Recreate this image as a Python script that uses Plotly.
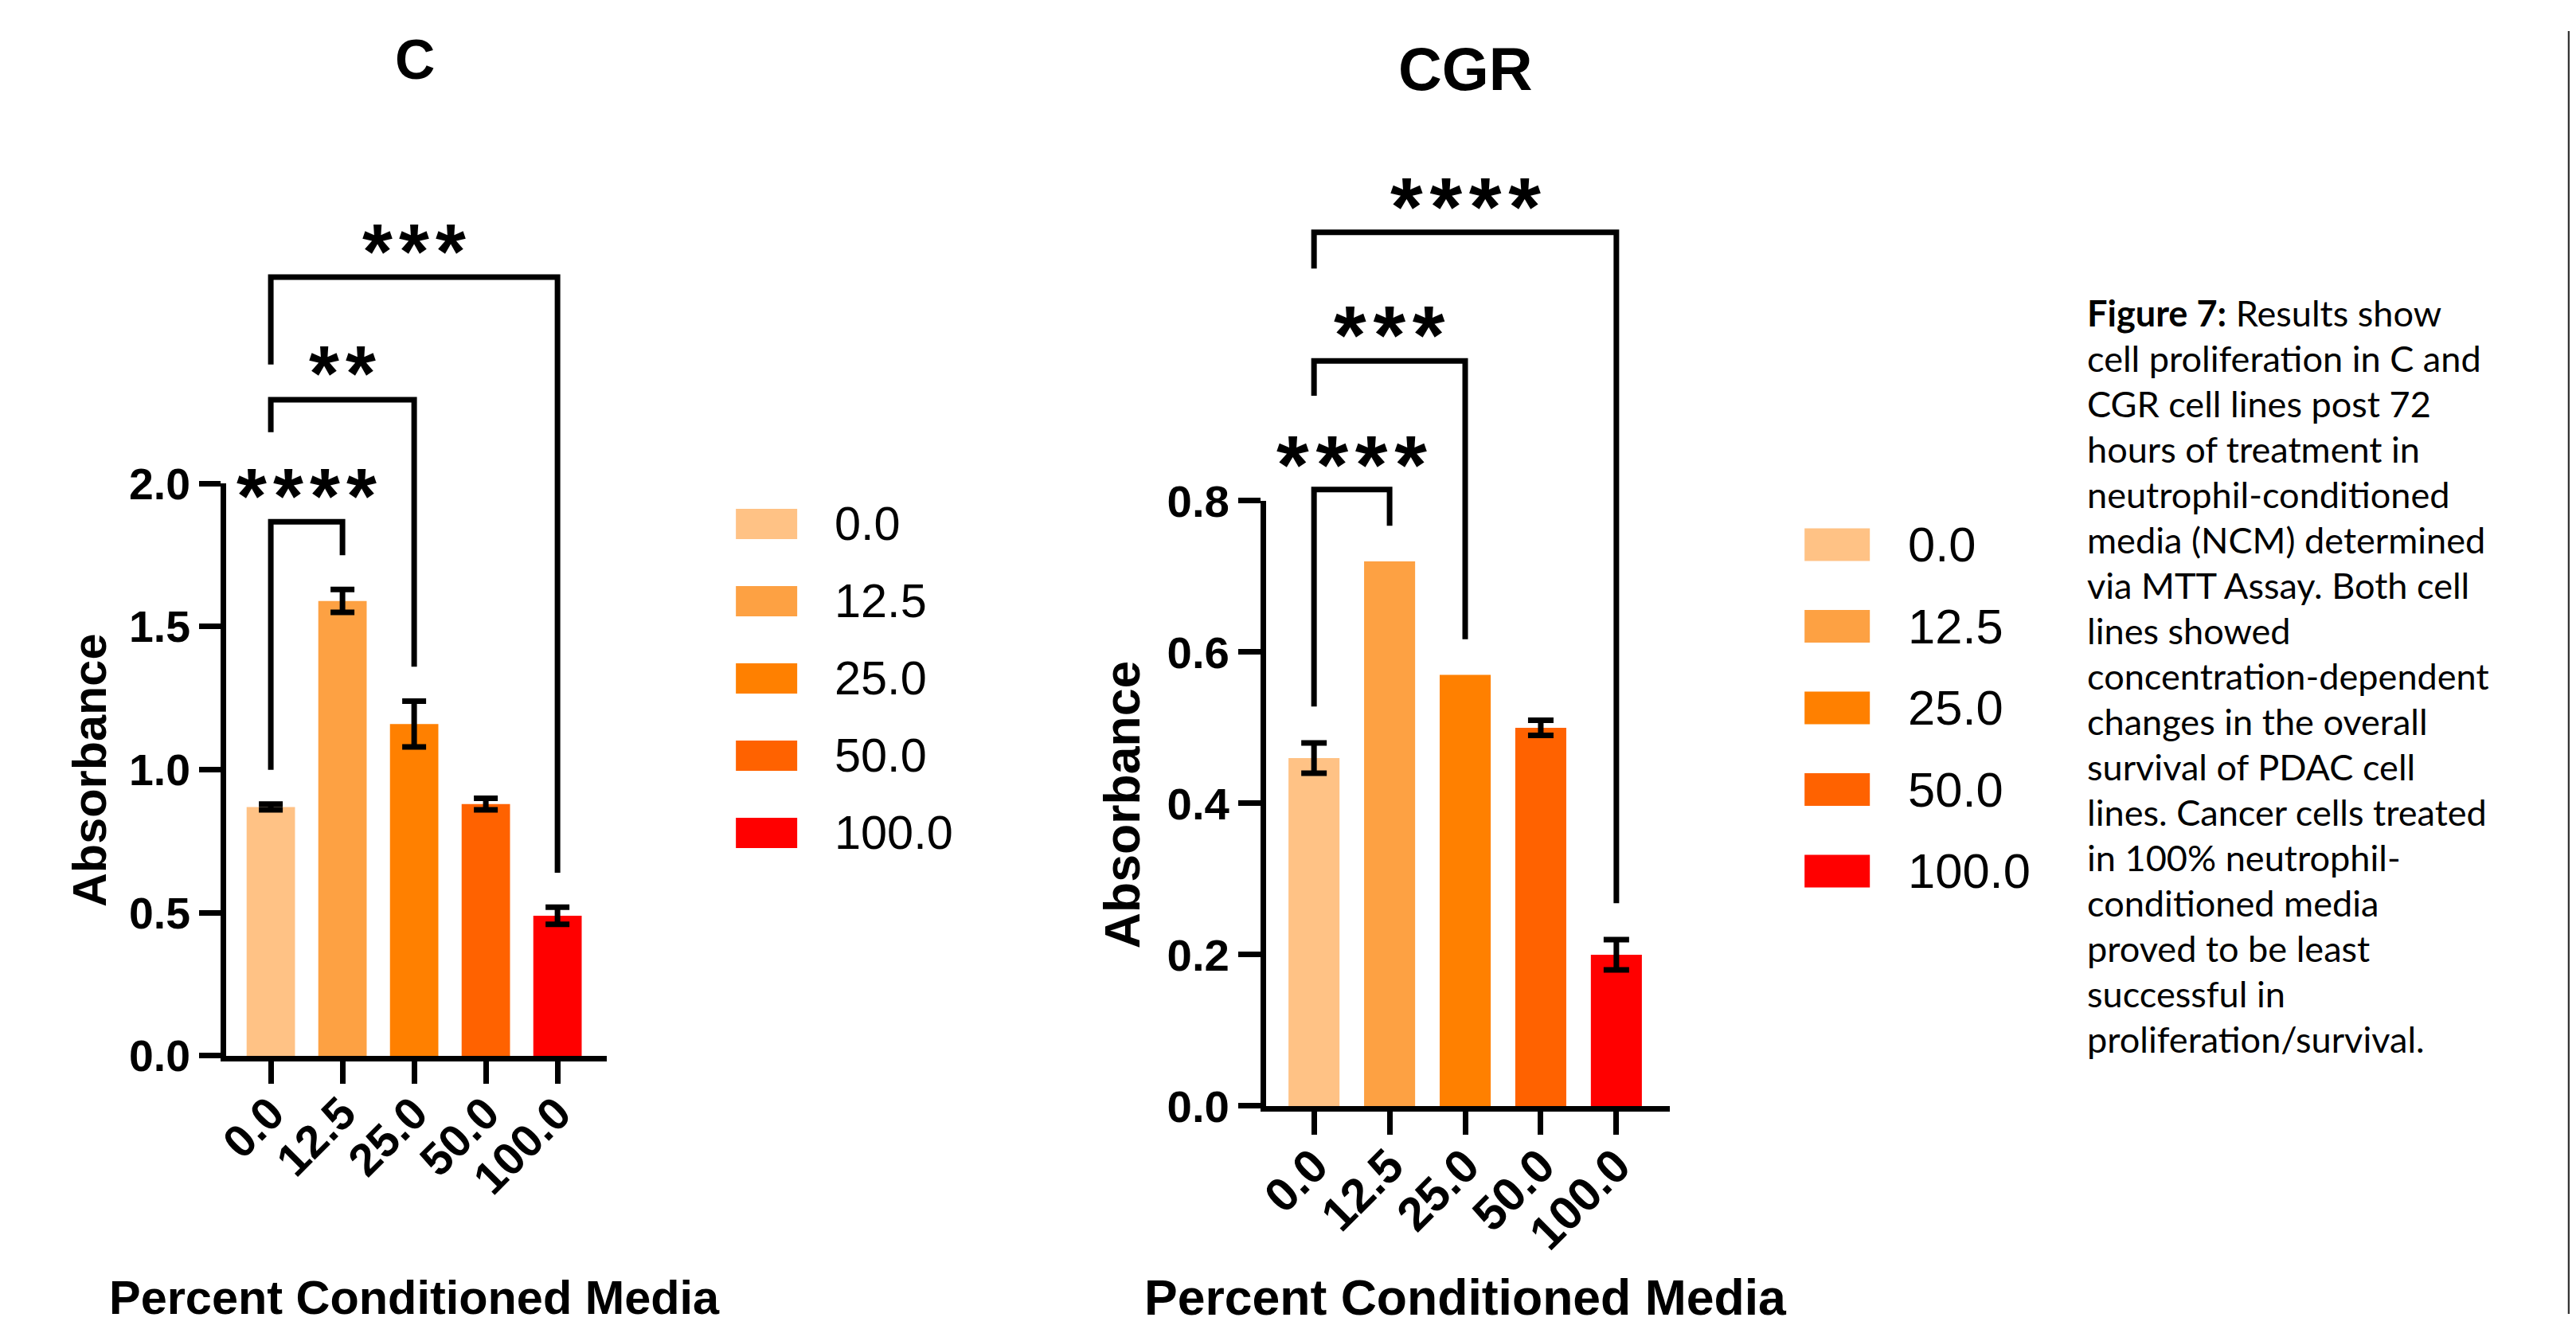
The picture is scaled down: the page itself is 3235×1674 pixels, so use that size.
import plotly.graph_objects as go

W, H = 3235, 1674

# ---------------- data ----------------
categories = ["0.0", "12.5", "25.0", "50.0", "100.0"]
colors = ["#FFC285", "#FDA143", "#FF8000", "#FF6200", "#FF0000"]

c_means = [0.87, 1.59, 1.16, 0.88, 0.49]
c_sem = [0.01, 0.04, 0.08, 0.02, 0.03]

cgr_means = [0.46, 0.72, 0.57, 0.50, 0.20]
cgr_sem = [0.02, None, None, 0.01, 0.02]

c_yticks = [0.0, 0.5, 1.0, 1.5, 2.0]
cgr_yticks = [0.0, 0.2, 0.4, 0.6, 0.8]

# significance comparisons: (group a, group b, label)
c_sig = [(0, 1, "****"), (0, 2, "**"), (0, 4, "***")]
cgr_sig = [(0, 1, "****"), (0, 2, "***"), (0, 4, "****")]

caption_lines = [
    "<b>Figure 7:</b> Results show",
    "cell proliferation in C and",
    "CGR cell lines post 72",
    "hours of treatment in",
    "neutrophil-conditioned",
    "media (NCM) determined",
    "via MTT Assay. Both cell",
    "lines showed",
    "concentration-dependent",
    "changes in the overall",
    "survival of PDAC cell",
    "lines. Cancer cells treated",
    "in 100% neutrophil-",
    "conditioned media",
    "proved to be least",
    "successful in",
    "proliferation/survival.",
]

# ---------------- layout geometry ----------------
# bracket geometry (top, left-leg bottom, right-leg bottom, label centre) in axis units
c_geom = [(1.867, 1.0, 1.75, 1.998), (2.293, 2.18, 1.36, 2.427), (2.722, 2.416, 0.64, 2.853)]
cgr_geom = [(0.815, 0.528, 0.767, 0.866), (0.985, 0.939, 0.617, 1.037), (1.155, 1.107, 0.268, 1.207)]

FONT = "Liberation Sans"
FS = 1.025  # font scale
HAIR = "\u200a"

# page placement compensation (target picture px -> figure px)
SX, OX = 0.9947, 23.9
SY, OY = 0.9623, 37.1


def fx(t):
    return ((t - OX) / SX) / W


def fy(t):
    return 1 - ((t - OY) / SY) / H


panels = [
    dict(title="C", means=c_means, sem=c_sem, sig=c_sig, geom=c_geom, yticks=c_yticks,
         xdom=(283, 761), ydom=(1324, 605.4), xrange=[-0.622, 4.689],
         title_xy=(520, 73), title_size=68, ytitle_xy=(112, 965), xtitle_xy=(519, 1627),
         atitle_size=58, ytick_size=54, xtick_size=56, star_size=95, yticklen=27, xticklen=28, cap=15,
         legend=dict(x0=923, x1=1000, y0=656, pitch=97, h=38, tx=1045, size=58)),
    dict(title="CGR", means=cgr_means, sem=cgr_sem, sig=cgr_sig, geom=cgr_geom, yticks=cgr_yticks,
         xdom=(1589, 2095.5), ydom=(1387, 627), xrange=[-0.632, 4.704],
         title_xy=(1839, 85), title_size=74, ytitle_xy=(1408, 1009), xtitle_xy=(1839, 1627),
         atitle_size=61, ytick_size=55, xtick_size=58, star_size=102, yticklen=28, xticklen=29, cap=16,
         legend=dict(x0=2265, x1=2347, y0=682, pitch=102.5, h=41, tx=2393, size=60)),
]

fig = go.Figure()
shapes = []
annotations = []
layout_axes = {}

for k, p in enumerate(panels):
    sfx = "" if k == 0 else str(k + 1)
    xa, ya = "x" + sfx, "y" + sfx
    ymax = p["yticks"][-1]
    yd0, yd1 = fy(p["ydom"][0]), fy(p["ydom"][1])

    def yp(v, yd0=yd0, yd1=yd1, ymax=ymax):
        return yd0 + v / ymax * (yd1 - yd0)

    for j, cat in enumerate(categories):
        err = p["sem"][j]
        fig.add_trace(go.Bar(
            x=[j], y=[p["means"][j]], width=0.675,
            marker=dict(color=colors[j], line=dict(width=0)),
            error_y=dict(type="data", array=[err if err is not None else 0],
                         visible=err is not None, thickness=7, width=p["cap"], color="black"),
            xaxis=xa, yaxis=ya, showlegend=False, hoverinfo="skip", name=cat,
        ))

    tickfont_y = dict(family=FONT, size=p["ytick_size"] * FS, color="black", weight="bold")
    tickfont_x = dict(family=FONT, size=p["xtick_size"] * FS, color="black", weight="bold")
    layout_axes["xaxis" + sfx] = dict(
        domain=[fx(p["xdom"][0]), fx(p["xdom"][1])], range=p["xrange"], anchor=ya,
        tickmode="array", tickvals=list(range(len(categories))), ticktext=categories,
        tickangle=-45, ticks="outside", ticklen=p["xticklen"], tickwidth=7, tickcolor="black",
        ticklabelstandoff=-20,
        showline=True, linewidth=7.3, linecolor="black", showgrid=False, zeroline=False,
        tickfont=tickfont_x,
    )
    layout_axes["yaxis" + sfx] = dict(
        domain=[yd0, yd1], range=[0, ymax], anchor=xa,
        tickmode="array", tickvals=p["yticks"], ticktext=[f"{v:.1f}" for v in p["yticks"]],
        ticks="outside", ticklen=p["yticklen"], tickwidth=7.3, tickcolor="black",
        showline=True, linewidth=7, linecolor="black", showgrid=False, zeroline=False,
        tickfont=tickfont_y,
    )

    # significance brackets
    for (a, b, lab), (top, lb, rb, ly) in zip(p["sig"], p["geom"]):
        shapes.append(dict(
            type="path", xref=xa, yref="paper",
            path=f"M {a},{yp(lb)} L {a},{yp(top)} L {b},{yp(top)} L {b},{yp(rb)}",
            line=dict(color="black", width=7),
        ))
        fs_star = p["star_size"] * FS
        annotations.append(dict(
            x=(a + b) / 2, xref=xa, y=yp(ly), yref="paper", text=HAIR.join(lab), showarrow=False,
            xanchor="center", yanchor="middle", yshift=-0.161 * fs_star,
            font=dict(family=FONT, size=fs_star, color="black", weight="bold"),
        ))

    # panel title and axis titles
    annotations.append(dict(x=fx(p["title_xy"][0]), y=fy(p["title_xy"][1]), xref="paper", yref="paper",
                            text=p["title"], showarrow=False, xanchor="center", yanchor="middle",
                            font=dict(family=FONT, size=p["title_size"] * FS, color="black", weight="bold")))
    annotations.append(dict(x=fx(p["ytitle_xy"][0]), y=fy(p["ytitle_xy"][1]), xref="paper", yref="paper",
                            text="Absorbance", textangle=-90, showarrow=False,
                            xanchor="center", yanchor="middle",
                            font=dict(family=FONT, size=p["atitle_size"] * FS, color="black", weight="bold")))
    annotations.append(dict(x=fx(p["xtitle_xy"][0]), y=fy(p["xtitle_xy"][1]), xref="paper", yref="paper",
                            text="Percent Conditioned Media", showarrow=False,
                            xanchor="center", yanchor="middle",
                            font=dict(family=FONT, size=p["atitle_size"] * FS, color="black", weight="bold")))

    # legend (drawn manually to match swatch size)
    lg = p["legend"]
    for j, cat in enumerate(categories):
        cy = lg["y0"] + lg["pitch"] * j
        shapes.append(dict(type="rect", xref="paper", yref="paper",
                           x0=fx(lg["x0"]), x1=fx(lg["x1"]),
                           y0=fy(cy + lg["h"] / 2), y1=fy(cy - lg["h"] / 2),
                           fillcolor=colors[j], line=dict(width=0)))
        annotations.append(dict(x=fx(lg["tx"]), y=fy(cy), xref="paper", yref="paper", text=cat,
                                showarrow=False, xanchor="left", yanchor="middle",
                                font=dict(family=FONT, size=lg["size"] * FS, color="black")))

# caption
for i, line in enumerate(caption_lines):
    annotations.append(dict(x=fx(2618), y=fy(391 + 57 * i), xref="paper", yref="paper", text=line,
                            showarrow=False, xanchor="left", yanchor="middle",
                            font=dict(family="Lato", size=44 * FS, color="black")))

# right-hand page border
shapes.append(dict(type="rect", xref="paper", yref="paper", x0=fx(3223.5), x1=fx(3225.8), y0=0, y1=1,
                   fillcolor="#333333", line=dict(width=0)))
shapes.append(dict(type="rect", xref="paper", yref="paper", x0=fx(3225.8), x1=fx(3236), y0=0, y1=1,
                   fillcolor="#009BA5", line=dict(width=0)))

fig.update_layout(
    width=W, height=H, margin=dict(l=0, r=0, t=0, b=0),
    paper_bgcolor="white", plot_bgcolor="white",
    barmode="overlay", showlegend=False,
    font=dict(family=FONT, color="black"),
    shapes=shapes, annotations=annotations,
    **layout_axes,
)

fig.write_html("out.html")
